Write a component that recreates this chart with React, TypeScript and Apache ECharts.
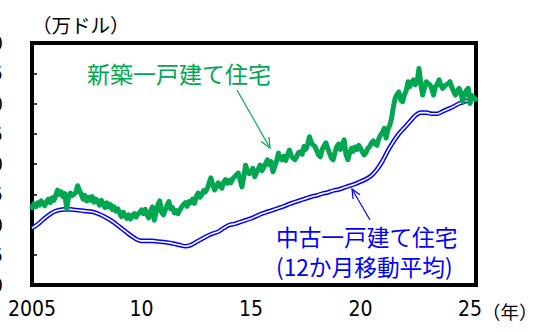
import React, { useEffect, useRef } from "react";
import * as echarts from "echarts";

// 新築一戸建て住宅の価格（万ドル）、2005年1月からの月次
const newHomePrice: number[] = [
  // 2005
  22.8, 23.4, 22.9, 23.6, 23.2, 23.9, 23.5, 23.1, 23.8, 24.2, 23.6, 24.4,
  // 2006
  24.0, 24.8, 25.7, 25.0, 25.4, 24.6, 25.1, 22.6, 24.5, 25.2, 24.8, 25.0,
  // 2007
  25.3, 26.4, 25.6, 25.0, 24.2, 24.8, 23.9, 24.5, 24.0, 24.6, 23.7, 24.2,
  // 2008
  23.9, 23.2, 24.0, 23.4, 22.8, 23.6, 22.9, 23.3, 22.5, 22.9, 22.2, 22.6,
  // 2009
  21.9, 21.3, 22.0, 21.5, 21.0, 21.6, 20.9, 21.4, 21.8, 21.2, 21.7, 22.0,
  // 2010
  22.4, 21.8, 22.5, 21.6, 21.1, 22.2, 22.9, 20.7, 22.0, 23.3, 23.9, 22.0,
  // 2011
  21.6, 22.4, 23.2, 23.8, 22.6, 22.8, 21.9, 22.3, 21.8, 22.4, 22.9, 23.3,
  // 2012
  23.6, 23.0, 23.8, 23.6, 24.2, 23.5, 24.6, 25.2, 24.5, 24.9, 25.6, 25.4,
  // 2013
  25.9, 26.8, 27.7, 26.6, 25.7, 26.3, 26.9, 26.4, 26.0, 27.0, 27.4, 26.8,
  // 2014
  27.3, 26.9, 27.6, 27.9, 28.2, 28.5, 27.4, 26.2, 27.8, 29.8, 28.9, 28.4,
  // 2015
  28.7, 29.3, 27.9, 28.6, 29.2, 29.8, 28.9, 29.5, 30.1, 30.7, 29.9, 30.4,
  // 2016
  28.7, 29.6, 30.5, 31.8, 30.9, 30.7, 31.3, 30.6, 31.5, 32.3, 31.4, 31.0,
  // 2017
  30.7, 31.2, 31.9, 32.0, 31.6, 32.9, 32.4, 33.2, 34.5, 33.6, 33.1, 32.9,
  // 2018
  32.2, 31.5, 31.2, 32.4, 33.0, 33.5, 32.6, 31.8, 31.0, 30.7, 31.9, 32.9,
  // 2019
  33.3, 32.4, 33.1, 34.0, 31.6, 30.7, 31.8, 32.6, 32.1, 32.8, 32.4, 33.1,
  // 2020
  32.6, 32.0, 31.5, 31.9, 32.6, 32.9, 33.5, 33.8, 33.3, 33.1, 34.2, 34.8,
  // 2021
  35.2, 35.9, 34.3, 35.8, 36.4, 37.6, 39.5, 40.9, 41.5, 41.9, 40.6, 40.3,
  // 2022
  41.4, 42.1, 43.6, 42.8, 43.6, 43.9, 43.1, 43.6, 45.8, 43.2, 41.4, 42.6,
  // 2023
  43.6, 43.3, 43.1, 42.4, 41.4, 42.8, 43.2, 43.9, 43.0, 42.5, 42.9, 43.1,
  // 2024
  43.3, 43.6, 42.7, 42.0, 41.4, 42.1, 42.5, 41.7, 40.3, 41.6, 42.2, 42.5,
  // 2025
  40.0, 41.3, 41.0, 40.7,
];

// 中古一戸建て住宅（12か月移動平均、万ドル）、2005年1月からの四半期ごと
const existingHomeAvg: number[] = [
  19.4, 20.0, 20.8, 21.5, // 2005
  22.1, 22.4, 22.5, 22.5, // 2006
  22.4, 22.3, 22.2, 22.1, // 2007
  21.8, 21.4, 20.9, 20.3, // 2008
  19.6, 18.9, 18.2, 17.6, // 2009
  17.3, 17.3, 17.3, 17.2, // 2010
  17.1, 17.0, 16.8, 16.6, // 2011
  16.4, 16.6, 17.1, 17.6, // 2012
  18.1, 18.5, 18.8, 19.4, // 2013
  19.9, 20.1, 20.4, 20.7, // 2014
  21.0, 21.4, 21.8, 22.1, // 2015
  22.4, 22.7, 23.0, 23.4, // 2016
  23.7, 24.0, 24.3, 24.6, // 2017
  24.8, 25.1, 25.3, 25.6, // 2018
  25.8, 26.1, 26.4, 26.7, // 2019
  27.1, 27.5, 28.1, 29.1, // 2020
  30.5, 32.2, 33.7, 35.0, // 2021
  36.0, 37.0, 38.0, 38.5, // 2022
  38.5, 38.3, 38.3, 38.7, // 2023
  39.1, 39.5, 40.0, 40.3, // 2024
  40.6, 41.0, // 2025
];

const START_YEAR = 2005;
const X_MAX = 2025.27;
const Y_MIN = 10;
const Y_MAX = 50;
const Y_STEP = 5;
const X_STEP = 5;

const GREEN = "#00a650";
const BLUE = "#0000ff";
const FONT_JP = "'Noto Sans CJK JP', 'Noto Sans', sans-serif";
const FONT_NUM =
  "'Liberation Sans Narrow', 'DejaVu Sans Condensed', 'Noto Sans CJK JP', sans-serif";

// thin annotation arrow with an open V head at (x2, y2)
function arrow(x1: number, y1: number, x2: number, y2: number, color: string, head: number) {
  const dx = x2 - x1;
  const dy = y2 - y1;
  const len = Math.hypot(dx, dy);
  const bx = -dx / len;
  const by = -dy / len;
  const a = (24 * Math.PI) / 180;
  const arm = (s: number) => [
    x2 + head * (bx * Math.cos(s * a) - by * Math.sin(s * a)),
    y2 + head * (bx * Math.sin(s * a) + by * Math.cos(s * a)),
  ];
  return [
    {
      type: "line",
      shape: { x1, y1, x2, y2 },
      style: { stroke: color, lineWidth: 1.2 },
      z: 10,
    },
    {
      type: "polyline",
      shape: { points: [arm(1), [x2, y2], arm(-1)] },
      style: { stroke: color, fill: null, lineWidth: 1.2 },
      z: 10,
    },
  ];
}

function label(text: string, x: number, y: number, size: number, color: string) {
  return {
    type: "text",
    x,
    y,
    z: 10,
    style: {
      text,
      fill: color,
      fontSize: size,
      fontFamily: FONT_JP,
      lineHeight: size,
      textAlign: "left",
      textVerticalAlign: "middle",
      verticalAlign: "middle",
    },
  };
}

export default function App() {
  const ref = useRef<HTMLDivElement>(null);

  useEffect(() => {
    if (!ref.current) return;
    const chart = echarts.init(ref.current, undefined, { renderer: "svg" });

    const newData = newHomePrice.map((v, i) => [START_YEAR + i / 12, v]);
    const oldData = existingHomeAvg.map((v, i) => [START_YEAR + i / 4, v]);

    chart.setOption({
      animation: false,
      backgroundColor: "#ffffff",
      grid: {
        left: 32,
        right: 57,
        top: 43,
        bottom: 47,
        containLabel: false,
        outerBoundsMode: "none",
        show: true,
        borderColor: "#000000",
        borderWidth: 4,
        backgroundColor: "transparent",
      },
      xAxis: {
        type: "value",
        min: START_YEAR,
        max: X_MAX,
        interval: X_STEP,
        axisLine: { show: false },
        axisTick: { show: false },
        splitLine: { show: false },
        axisLabel: {
          color: "#000000",
          fontSize: 21,
          fontFamily: FONT_NUM,
          margin: 13,
          hideOverlap: false,
          formatter: (v: number) => {
            if (Math.abs(v - Math.round(v)) > 1e-6) return "";
            if (v === START_YEAR) return String(v);
            return String(Math.round(v) % 100).padStart(2, "0");
          },
        },
      },
      yAxis: {
        type: "value",
        min: Y_MIN,
        max: Y_MAX,
        interval: Y_STEP,
        axisLine: { show: false },
        axisTick: {
          show: true,
          inside: true,
          length: 5,
          lineStyle: { color: "#000000", width: 1.5 },
        },
        splitLine: { show: false },
        axisLabel: {
          color: "#000000",
          fontSize: 20,
          fontFamily: FONT_NUM,
          margin: 29,
        },
      },
      series: [
        {
          name: "中古一戸建て住宅",
          type: "line",
          data: oldData,
          smooth: 0.35,
          showSymbol: false,
          z: 2,
          lineStyle: { color: BLUE, width: 4.6 },
        },
        {
          name: "中古一戸建て住宅 内線",
          type: "line",
          data: oldData,
          smooth: 0.35,
          showSymbol: false,
          z: 3,
          lineStyle: { color: "#ffffff", width: 1.6 },
        },
        {
          name: "新築一戸建て住宅",
          type: "line",
          data: newData,
          showSymbol: false,
          z: 4,
          lineStyle: { color: GREEN, width: 5, join: "round", cap: "round" },
        },
      ],
      graphic: [
        label("（万ドル）", 32, 24, 19.5, "#000000"),
        label("新築一戸建て住宅", 87, 73, 23, GREEN),
        label("中古一戸建て住宅", 276, 236, 22.7, BLUE),
        label("(12か月移動平均)", 276, 266, 22.7, BLUE),
        {
          type: "text",
          x: 482,
          y: 311,
          z: 10,
          style: {
            text: "（年）",
            fill: "#000000",
            fontSize: 18.5,
            fontFamily: FONT_JP,
            lineHeight: 18.5,
            textAlign: "left",
            textVerticalAlign: "middle",
            verticalAlign: "middle",
          },
        },
        ...arrow(237, 90, 270, 148, GREEN, 11),
        ...arrow(370, 220, 352, 189, BLUE, 10),
      ],
    });

    return () => chart.dispose();
  }, []);

  return (
    <div
      ref={ref}
      style={{ position: "absolute", left: 0, top: 0, width: 533, height: 332 }}
    />
  );
}
